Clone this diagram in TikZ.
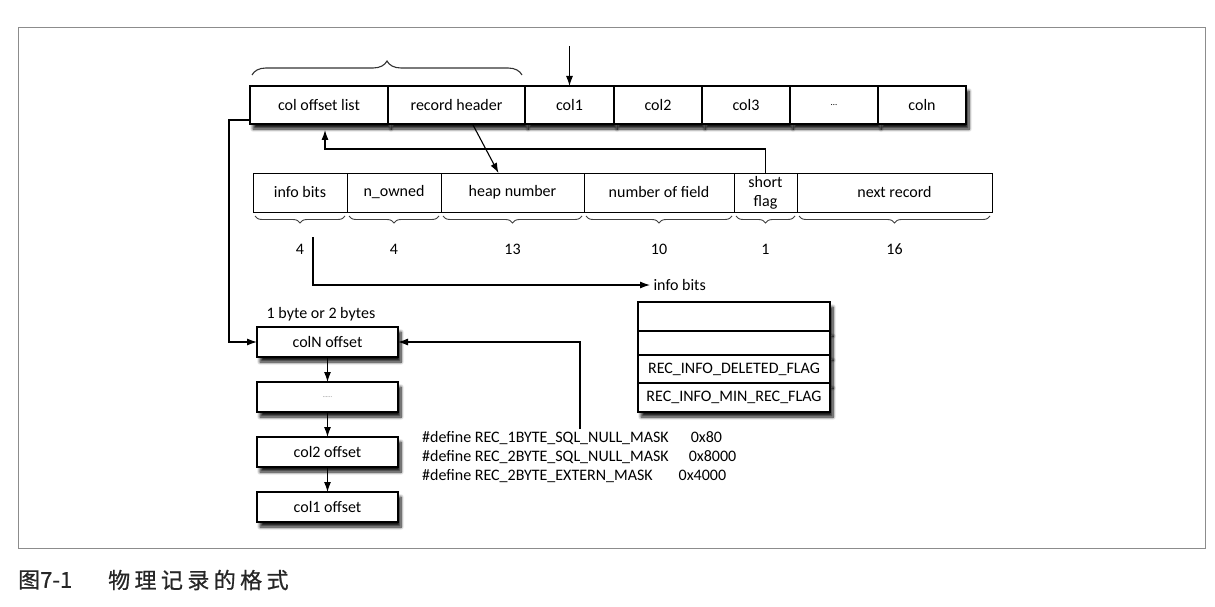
\documentclass[tikz,border=0pt]{standalone}
\usepackage{fontspec}
\setmainfont{Carlito}
\newfontfamily\cjkfont[FakeBold=0.8]{Noto Sans CJK SC}
\newfontfamily\cjkwide[FakeBold=0.8,LetterSpace=20]{Noto Sans CJK SC}
\usetikzlibrary{arrows.meta,positioning,shadows.blur,decorations.pathreplacing}

\tikzset{
  txt/.style={font=\fontsize{16}{18}\selectfont},
  cell/.style={txt,draw,line width=1.2pt,fill=white,inner sep=0pt,outer sep=0pt,minimum height=38pt},
  field/.style={cell,line width=1pt,minimum height=39pt},
  flagrow/.style={cell,minimum width=192pt},
  slot/.style={cell,minimum width=141pt,minimum height=30pt},
  shadowed/.style={blur shadow={shadow xshift=3pt,shadow yshift=-5pt,shadow blur radius=3pt,shadow blur steps=8,shadow opacity=90}},
  upbrace/.style={decorate,decoration={brace,amplitude=14pt},line width=1.1pt,black!80},
  downbrace/.style={decorate,decoration={brace,mirror,amplitude=7pt},line width=0.9pt,black!75},
  link/.style={->,line width=1.1pt},
  captext/.style={anchor=west,inner sep=0pt,black!85}
}

\begin{document}
\begin{tikzpicture}[x=1pt,y=-1pt,>={Latex[length=10pt,width=7pt]}]
\useasboundingbox (0,0) rectangle (1215,607);
\draw[black!45,line width=0.8pt] (18,27) rectangle (1205,548);

% record
\node[cell,shadowed,minimum width=138pt] (coloff) at (319,105) {col offset list};
\node[cell,shadowed,minimum width=137pt,right=0pt of coloff] (rechdr) {record header};
\node[cell,shadowed,minimum width=89pt,right=0pt of rechdr] (col1) {col1};
\node[cell,shadowed,minimum width=88pt,right=0pt of col1] (col2) {col2};
\node[cell,shadowed,minimum width=88pt,right=0pt of col2] (col3) {col3};
\node[cell,shadowed,minimum width=88pt,right=0pt of col3] (coldots) {\fontsize{9}{9}\selectfont\ldots};
\node[cell,shadowed,minimum width=88pt,right=0pt of coldots] (coln) {coln};
\draw[upbrace] ([xshift=2pt,yshift=11pt]coloff.north west) -- ([xshift=-3pt,yshift=11pt]rechdr.north east);
\coordinate (col1top) at (569.5,46);
\draw[link] (col1top) -- (col1.north);

% record header
\node[field,minimum width=94pt] (infobits) at (300,192.5) {info bits};
\node[field,minimum width=94pt,right=0pt of infobits] (nowned) {n\_owned};
\node[field,minimum width=143pt,right=0pt of nowned] (heapno) {heap number};
\node[field,minimum width=150pt,right=0pt of heapno] (nfield) {number of field};
\node[field,minimum width=63pt,right=0pt of nfield,align=center] (sflag) {short\\[1pt]flag};
\node[field,minimum width=195pt,right=0pt of sflag] (nextrec) {next record};
\foreach \c/\n in {infobits/4,nowned/4,heapno/13,nfield/10,sflag/1,nextrec/16}
  \draw[downbrace] ([xshift=2pt,yshift=-4pt]\c.south west) -- ([xshift=-2pt,yshift=-4pt]\c.south east)
    node[midway,below=24pt,txt,black] (w-\c) {\n};

\draw[link] ([xshift=16pt]rechdr.south) -- ([xshift=-14pt]heapno.north);
\draw[link] (sflag.north) -- ++(0,-24) -| ([xshift=6pt,yshift=-6pt]coloff.south);

% info bits
\node[txt,anchor=west] (infolbl) at (650,285) {info bits};
\node[flagrow,shadowed,minimum height=29pt] (flag1) at (734,316.5) {};
\node[flagrow,shadowed,minimum height=24pt,below=0pt of flag1] (flag2) {};
\node[flagrow,shadowed,minimum height=28pt,below=0pt of flag2] (flag3) {REC\_INFO\_DELETED\_FLAG};
\node[flagrow,shadowed,minimum height=29pt,below=0pt of flag3] (flag4) {REC\_INFO\_MIN\_REC\_FLAG};
\coordinate (infotap) at (313,237);
\draw[link] (infotap) |- (infolbl.west);

% col offset list
\node[txt] (bytes) at (321,314) {1 byte or 2 bytes};
\node[slot,shadowed] (colNoff) at (327.5,342) {colN offset};
\node[slot,shadowed,below=25pt of colNoff] (slotdots) {\fontsize{6}{6}\selectfont\color{black!60}......};
\node[slot,shadowed,below=25pt of slotdots] (col2off) {col2 offset};
\node[slot,shadowed,below=25pt of col2off] (col1off) {col1 offset};
\foreach \a/\b in {colNoff/slotdots,slotdots/col2off,col2off/col1off}
  \draw[link] (\a) -- (\b);
\draw[link] ([yshift=-15pt]coloff.west) -- ++(-21,0) |- (colNoff.west);

\node[txt,anchor=north west,align=left,inner sep=0pt,font=\fontsize{16}{19}\selectfont] (masks) at (422,431) {%
  \#define REC\_1BYTE\_SQL\_NULL\_MASK\hspace{22pt}0x80\\
  \#define REC\_2BYTE\_SQL\_NULL\_MASK\hspace{20pt}0x8000\\
  \#define REC\_2BYTE\_EXTERN\_MASK\hspace{26pt}0x4000};
\coordinate (masktap) at (580,429);
\draw[link] (masktap) |- (colNoff.east);

% caption
\node[captext,font=\cjkfont\fontsize{22}{22}\selectfont] (capnum) at (18,580) {图7-1};
\node[captext,font=\cjkwide\fontsize{22}{22}\selectfont] (captxt) at (108,580) {物理记录的格式};
\end{tikzpicture}
\end{document}
